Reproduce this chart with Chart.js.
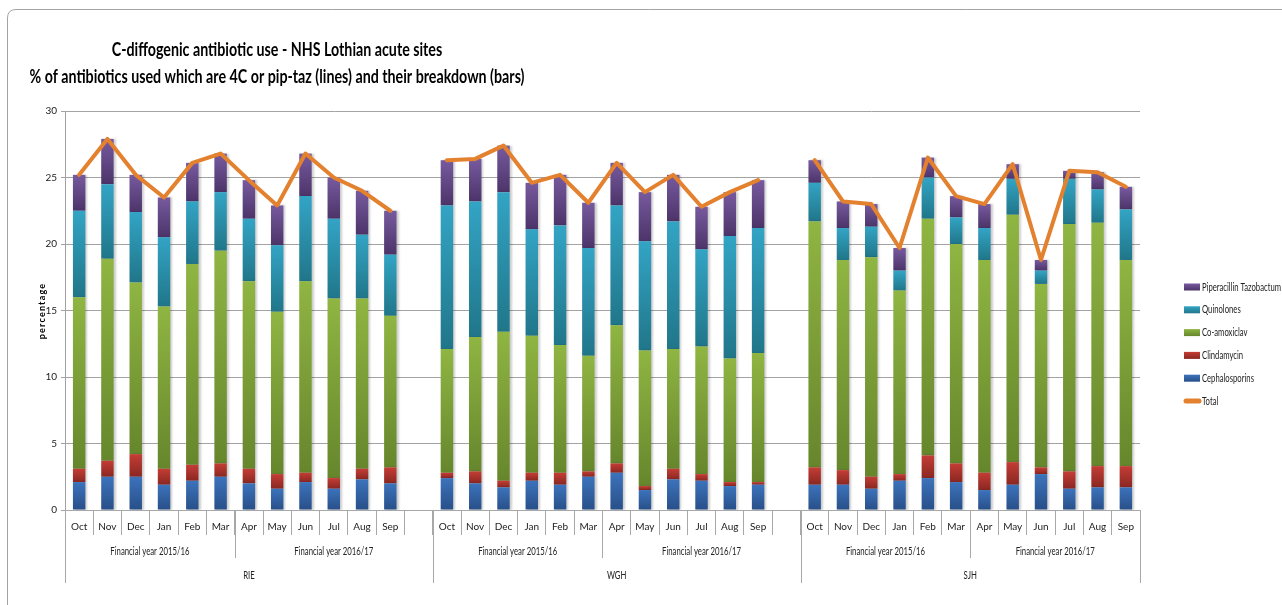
<!DOCTYPE html>
<html>
<head>
<meta charset="utf-8">
<script src="https://cdn.jsdelivr.net/npm/chart.js@4.4.1/dist/chart.umd.min.js"></script>
<style>
  html, body { margin: 0; padding: 0; background: #ffffff; }
  #wrap { width: 1282px; height: 605px; position: relative; }
  canvas { display: block; background: #ffffff; }
</style>
</head>
<body>
<div id="wrap"><canvas id="chart" width="1282" height="605"></canvas></div>
<script>
// ---- categories ----
const months = ['Oct', 'Nov', 'Dec', 'Jan', 'Feb', 'Mar', 'Apr', 'May', 'Jun', 'Jul', 'Aug', 'Sep'];
const sites = ['RIE', 'WGH', 'SJH'];
const finYears = ['Financial year 2015/16', 'Financial year 2016/17'];

const titleLines = [
  'C-diffogenic antibiotic use - NHS Lothian acute sites',
  '% of antibiotics used which are 4C or pip-taz (lines) and their breakdown (bars)'
];

// ---- % of antibiotics, Oct 2015 to Sep 2016, per site ----
const cephalosporinsRIE = [2.1, 2.5, 2.5, 1.9, 2.2, 2.5, 2.0, 1.6, 2.1, 1.6, 2.3, 2.0];
const clindamycinRIE    = [1.0, 1.2, 1.7, 1.2, 1.2, 1.0, 1.1, 1.1, 0.7, 0.8, 0.8, 1.2];
const coAmoxiclavRIE    = [12.9, 15.2, 12.9, 12.2, 15.1, 16.0, 14.1, 12.2, 14.4, 13.5, 12.8, 11.4];
const quinolonesRIE     = [6.5, 5.6, 5.3, 5.2, 4.7, 4.4, 4.7, 5.0, 6.4, 6.0, 4.8, 4.6];
const pipTazRIE         = [2.7, 3.4, 2.8, 3.0, 2.9, 2.9, 2.9, 3.0, 3.2, 3.1, 3.3, 3.3];
const totalRIE          = [25.2, 27.9, 25.2, 23.5, 26.1, 26.8, 24.8, 22.9, 26.8, 25.0, 24.0, 22.5];

const cephalosporinsWGH = [2.4, 2.0, 1.7, 2.2, 1.9, 2.5, 2.8, 1.5, 2.3, 2.2, 1.8, 1.9];
const clindamycinWGH    = [0.4, 0.9, 0.5, 0.6, 0.9, 0.4, 0.7, 0.3, 0.8, 0.5, 0.3, 0.2];
const coAmoxiclavWGH    = [9.3, 10.1, 11.2, 10.3, 9.6, 8.7, 10.4, 10.2, 9.0, 9.6, 9.3, 9.7];
const quinolonesWGH     = [10.8, 10.2, 10.5, 8.0, 9.0, 8.1, 9.0, 8.2, 9.6, 7.3, 9.2, 9.4];
const pipTazWGH         = [3.4, 3.2, 3.5, 3.5, 3.8, 3.4, 3.2, 3.7, 3.5, 3.2, 3.3, 3.6];
const totalWGH          = [26.3, 26.4, 27.4, 24.6, 25.2, 23.1, 26.1, 23.9, 25.2, 22.8, 23.9, 24.8];

const cephalosporinsSJH = [1.9, 1.9, 1.6, 2.2, 2.4, 2.1, 1.5, 1.9, 2.7, 1.6, 1.7, 1.7];
const clindamycinSJH    = [1.3, 1.1, 0.9, 0.5, 1.7, 1.4, 1.3, 1.7, 0.5, 1.3, 1.6, 1.6];
const coAmoxiclavSJH    = [18.5, 15.8, 16.5, 13.8, 17.8, 16.5, 16.0, 18.6, 13.8, 18.6, 18.3, 15.5];
const quinolonesSJH     = [2.9, 2.4, 2.3, 1.5, 3.1, 2.0, 2.4, 2.7, 1.0, 3.4, 2.5, 3.8];
const pipTazSJH         = [1.7, 2.0, 1.7, 1.7, 1.5, 1.6, 1.8, 1.1, 0.8, 0.6, 1.3, 1.7];
const totalSJH          = [26.3, 23.2, 23.0, 19.7, 26.5, 23.6, 23.0, 26.0, 18.8, 25.5, 25.4, 24.3];

// ---- build the flat category axis: sites side by side, one empty slot between them ----
function joinSites(parts) {
  const out = [];
  parts.forEach((p, s) => {
    out.push(...p);
    if (s < parts.length - 1) out.push(null);
  });
  return out;
}
const labels = joinSites(sites.map(() => months)).map(v => v === null ? '' : v);
const siteStart = [0, 13, 26];
const siteEnd = [13, 26, 38];

const FONT = 'Lato, "DejaVu Sans Condensed", sans-serif';
Chart.defaults.font.family = FONT;
Chart.defaults.color = '#222222';

// light (top) / dark (bottom) shade of each bar segment
function segmentFill(ctx) {
  const chart = ctx.chart;
  const ds = chart.data.datasets[ctx.datasetIndex];
  const light = ds.shades[0], dark = ds.shades[1];
  const y = chart.scales && chart.scales.y;
  if (!chart.chartArea || !y || ctx.raw == null) return light;
  let base = 0;
  for (let k = 0; k < ctx.datasetIndex; k++) {
    const d = chart.data.datasets[k];
    if (d.type === 'bar') base += d.data[ctx.dataIndex] || 0;
  }
  const top = y.getPixelForValue(base + ctx.raw);
  const bottom = y.getPixelForValue(base);
  if (!isFinite(top) || !isFinite(bottom) || Math.abs(bottom - top) < 0.5) return light;
  const g = chart.ctx.createLinearGradient(0, top, 0, bottom);
  g.addColorStop(0, light);
  g.addColorStop(1, dark);
  return g;
}

function barSet(label, rie, wgh, sjh, shades) {
  return {
    type: 'bar',
    label: label,
    data: joinSites([rie, wgh, sjh]),
    shades: shades,
    backgroundColor: segmentFill,
    borderWidth: 0,
    barPercentage: 0.44,
    categoryPercentage: 1.0,
    stack: 'mix',
    order: 1
  };
}

const datasets = [
  barSet('Cephalosporins', cephalosporinsRIE, cephalosporinsWGH, cephalosporinsSJH, ['#3c73bc', '#284f88']),
  barSet('Clindamycin', clindamycinRIE, clindamycinWGH, clindamycinSJH, ['#c33d35', '#8b2722']),
  barSet('Co-amoxiclav', coAmoxiclavRIE, coAmoxiclavWGH, coAmoxiclavSJH, ['#8fb542', '#66862c']),
  barSet('Quinolones', quinolonesRIE, quinolonesWGH, quinolonesSJH, ['#33a4c5', '#207689']),
  barSet('Piperacillin Tazobactum', pipTazRIE, pipTazWGH, pipTazSJH, ['#775a9f', '#4c3469']),
  {
    type: 'line',
    label: 'Total',
    data: joinSites([totalRIE, totalWGH, totalSJH]),
    borderColor: '#e3812f',
    backgroundColor: '#e3812f',
    borderWidth: 4,
    pointRadius: 0,
    pointHoverRadius: 0,
    tension: 0,
    spanGaps: false,
    borderCapStyle: 'round',
    borderJoinStyle: 'round',
    order: 0
  }
];

// legend order top to bottom
const legendOrder = ['Piperacillin Tazobactum', 'Quinolones', 'Co-amoxiclav', 'Clindamycin', 'Cephalosporins', 'Total'];

// draw text squeezed horizontally so that `ref` text would span `width` pixels
function squeeze(c, ref, width) {
  return Math.min(1, width / c.measureText(ref).width);
}
function narrowText(c, text, x, y, sx) {
  c.save();
  c.translate(x, y);
  c.scale(sx, 1);
  c.fillText(text, 0, 0);
  c.restore();
}

const decorations = {
  id: 'decorations',
  beforeDraw(chart) {
    const c = chart.ctx;
    c.save();
    c.strokeStyle = '#a3a3a3';
    c.lineWidth = 1;
    c.beginPath();
    c.moveTo(7.5, 606);
    c.lineTo(7.5, 18);
    c.quadraticCurveTo(7.5, 9.5, 16, 9.5);
    c.lineTo(1290, 9.5);
    c.stroke();
    c.restore();
  },
  beforeDatasetDraw(chart, args) {
    if (args.meta.type === 'bar') {
      const c = chart.ctx;
      c.save();
      c.shadowColor = 'rgba(0,0,0,0.2)';
      c.shadowOffsetX = 2;
      c.shadowOffsetY = 0;
      c.shadowBlur = 2;
    }
  },
  afterDatasetDraw(chart, args) {
    if (args.meta.type === 'bar') chart.ctx.restore();
  },
  afterDraw(chart) {
    const c = chart.ctx;
    const xs = chart.scales.x;
    const area = chart.chartArea;
    const step = xs.getPixelForValue(1) - xs.getPixelForValue(0);
    const edge = i => xs.getPixelForValue(0) - step / 2 + i * step;
    const axisY = area.bottom;

    c.save();
    // titles
    c.fillStyle = '#000000';
    c.textAlign = 'center';
    c.textBaseline = 'middle';
    c.font = 'bold 18px ' + FONT;
    const tsx = squeeze(c, titleLines[1], 495);
    narrowText(c, titleLines[0], 277, 50, tsx);
    narrowText(c, titleLines[1], 277, 77, tsx);

    // y-axis title
    c.save();
    c.translate(42, 311);
    c.rotate(-Math.PI / 2);
    c.font = 'bold 9px ' + FONT;
    c.letterSpacing = '1.2px';
    c.fillText('percentage', 0, 0);
    c.restore();

    // grouped category levels
    c.strokeStyle = '#a8a8a8';
    c.lineWidth = 1;
    c.font = '11px ' + FONT;
    c.fillStyle = '#222222';
    const gsx = squeeze(c, finYears[0], 79);
    sites.forEach((site, s) => {
      const a = siteStart[s], b = siteEnd[s];
      const mid = a + 6;
      // site separators
      [a, b].forEach(i => {
        const px = Math.round(edge(i)) + 0.5;
        c.beginPath(); c.moveTo(px, axisY); c.lineTo(px, axisY + 73); c.stroke();
      });
      // financial-year separator
      const pm = Math.round(edge(mid)) + 0.5;
      c.beginPath(); c.moveTo(pm, axisY); c.lineTo(pm, axisY + 48); c.stroke();
      narrowText(c, finYears[0], (edge(a) + edge(mid)) / 2, axisY + 41, gsx);
      narrowText(c, finYears[1], (edge(mid) + edge(b)) / 2, axisY + 41, gsx);
      narrowText(c, site, (edge(a) + edge(b)) / 2, axisY + 65, gsx);
    });

    // legend
    const lx = 1184, ly0 = 287, gap = 22.8;
    c.textAlign = 'left';
    c.font = '11px ' + FONT;
    const lsx = squeeze(c, legendOrder[0], 79);
    legendOrder.forEach((name, k) => {
      const ds = chart.data.datasets.find(d => d.label === name);
      const cy = ly0 + k * gap;
      if (ds.type === 'bar') {
        const g = c.createLinearGradient(0, cy - 3.5, 0, cy + 3.5);
        g.addColorStop(0, ds.shades[0]);
        g.addColorStop(1, ds.shades[1]);
        c.fillStyle = g;
        c.fillRect(lx, cy - 3.5, 16, 7);
      } else {
        c.strokeStyle = ds.borderColor;
        c.lineWidth = 5;
        c.lineCap = 'round';
        c.beginPath(); c.moveTo(lx + 2, cy); c.lineTo(lx + 15, cy); c.stroke();
      }
      c.fillStyle = '#222222';
      narrowText(c, name, lx + 18, cy, lsx);
    });
    c.restore();
  }
};

new Chart(document.getElementById('chart'), {
  data: { labels: labels, datasets: datasets },
  options: {
    responsive: false,
    animation: false,
    devicePixelRatio: 1,
    layout: { padding: { left: 25, right: 142, top: 111, bottom: 7 } },
    plugins: {
      legend: { display: false },
      title: { display: false },
      tooltip: { enabled: false }
    },
    scales: {
      x: {
        stacked: true,
        offset: true,
        grid: { offset: true, drawOnChartArea: false, drawTicks: true, tickLength: 25, color: '#a8a8a8' },
        border: { display: true, color: '#a8a8a8' },
        ticks: { autoSkip: false, maxRotation: 0, minRotation: 0, font: { size: 10 }, color: '#222222', padding: -14 },
        afterFit(scale) { scale.height = 88; }
      },
      y: {
        stacked: true,
        min: 0,
        max: 30,
        ticks: { stepSize: 5, font: { size: 10 }, color: '#222222', padding: 4 },
        grid: { color: '#a3a3a3', tickLength: 4, drawTicks: true },
        border: { display: true, color: '#a3a3a3' },
        afterFit(scale) { scale.width = 40; }
      }
    }
  },
  plugins: [decorations]
});
</script>
</body>
</html>
